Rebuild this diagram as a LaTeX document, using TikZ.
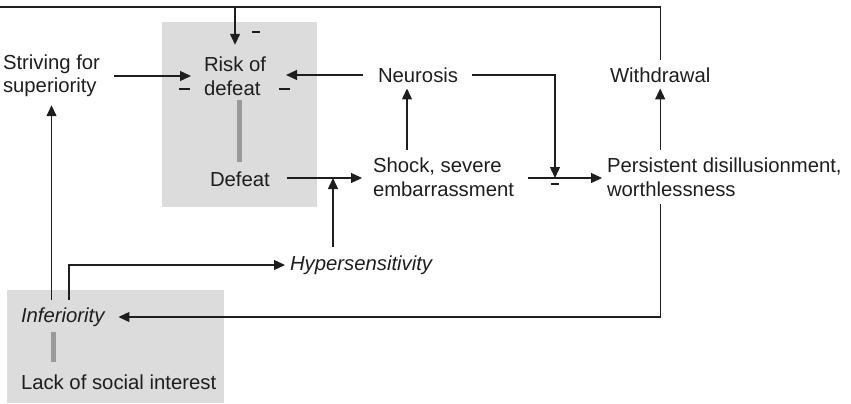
\documentclass[tikz,border=0pt]{standalone}
\usepackage{fontspec}
\setmainfont{Liberation Sans}
\usetikzlibrary{arrows.meta}
\definecolor{panel}{HTML}{DCDCDD}
\definecolor{linkbar}{HTML}{9A9A9A}
\definecolor{ink}{HTML}{1E1E1E}
\begin{document}
\begin{tikzpicture}[x=1pt,y=-1pt,
  every node/.style={inner sep=0pt, outer sep=0pt, font=\fontsize{20.3}{23.5}\selectfont, text=ink},
  lbl/.style={anchor=west, align=left},
  arr/.style={line width=1.3pt, draw=ink, -{Triangle[length=11pt,width=10pt]}},
  bar/.style={line width=5pt, draw=linkbar},
  panelbox/.style={fill=panel, draw=none},
  minus/.style={text=ink}
]
\useasboundingbox (0,0) rectangle (851,404);

% shaded panels
\fill[panelbox] (162,22) rectangle (317,207);
\fill[panelbox] (7,290) rectangle (224,403);

% concepts
\node[lbl] (striving) at (3,76) {Striving for\\superiority};
\node[lbl] (risk) at (204,76) {Risk of\\defeat};
\node[lbl] (neurosis) at (378,75) {Neurosis};
\node[lbl] (withdrawal) at (610,75) {Withdrawal};
\node[lbl] (defeat) at (210,179) {Defeat};
\node[lbl] (shock) at (373,177) {Shock, severe\\embarrassment};
\node[lbl] (persistent) at (607,177) {Persistent disillusionment,\\worthlessness};
\node[lbl, font=\fontsize{20.3}{23.5}\selectfont\itshape] (hyper) at (290,265) {Hypersensitivity};
\node[lbl, font=\fontsize{20.3}{23.5}\selectfont\itshape] (inferiority) at (21,317) {Inferiority};
\node[lbl] (lack) at (21,382) {Lack of social interest};

% inhibition marks
\node[minus] (mtop) at (256,32) {\rule{8pt}{1.3pt}};
\node[minus] (mleft) at (184,89) {\rule{11pt}{1.3pt}};
\node[minus] (mright) at (284,89) {\rule{11pt}{1.3pt}};
\node[minus] (mbottom) at (555,184) {\rule{8pt}{1.3pt}};

% junction columns and points
\coordinate (topline) at (0,7);
\coordinate (xhyp) at (333,178);
\coordinate (xshock) at (407,0);
\coordinate (xneur) at (555,178);
\coordinate (xinf) at (69,0);

% grey links inside panels
\draw[bar] (239,100) -- (239,162);
\draw[bar] (53,332) -- (53,362);

% connectors
\draw[arr, shorten <=14pt, shorten >=13pt] (striving.east) -- (striving.east -| risk.west);
\draw[arr, shorten <=15pt, shorten >=20pt] (neurosis.west) -- (neurosis.west -| risk.east);
\draw[arr, shorten <=8pt, shorten >=12pt] (withdrawal.north) |- (topline) -| (risk.north);
\draw[arr, shorten <=17pt, shorten >=11pt] (defeat.east |- xhyp) -- (xhyp -| shock.west);
\draw[arr, shorten <=9pt] (xhyp |- hyper.north) -- (xhyp);
\draw[arr, shorten <=8pt, shorten >=6pt] (shock.north -| xshock) -- (neurosis.south -| xshock);
\draw[arr, shorten <=14pt] (neurosis.east) -| (xneur);
\draw[arr, shorten <=14pt, shorten >=5pt] (shock.east |- xneur) -- (xneur -| persistent.west);
\draw[arr, shorten <=8pt, shorten >=6pt] (persistent.north -| withdrawal.south) -- (withdrawal.south);
\draw[arr, shorten <=8pt, shorten >=14pt] (persistent.south -| withdrawal.south) |- (inferiority.east);
\draw[arr, shorten <=8pt, shorten >=8pt] (inferiority.north -| striving.south) -- (striving.south);
\draw[arr, shorten <=8pt, shorten >=5pt] (inferiority.north -| xinf) |- (hyper.west);
\end{tikzpicture}
\end{document}
